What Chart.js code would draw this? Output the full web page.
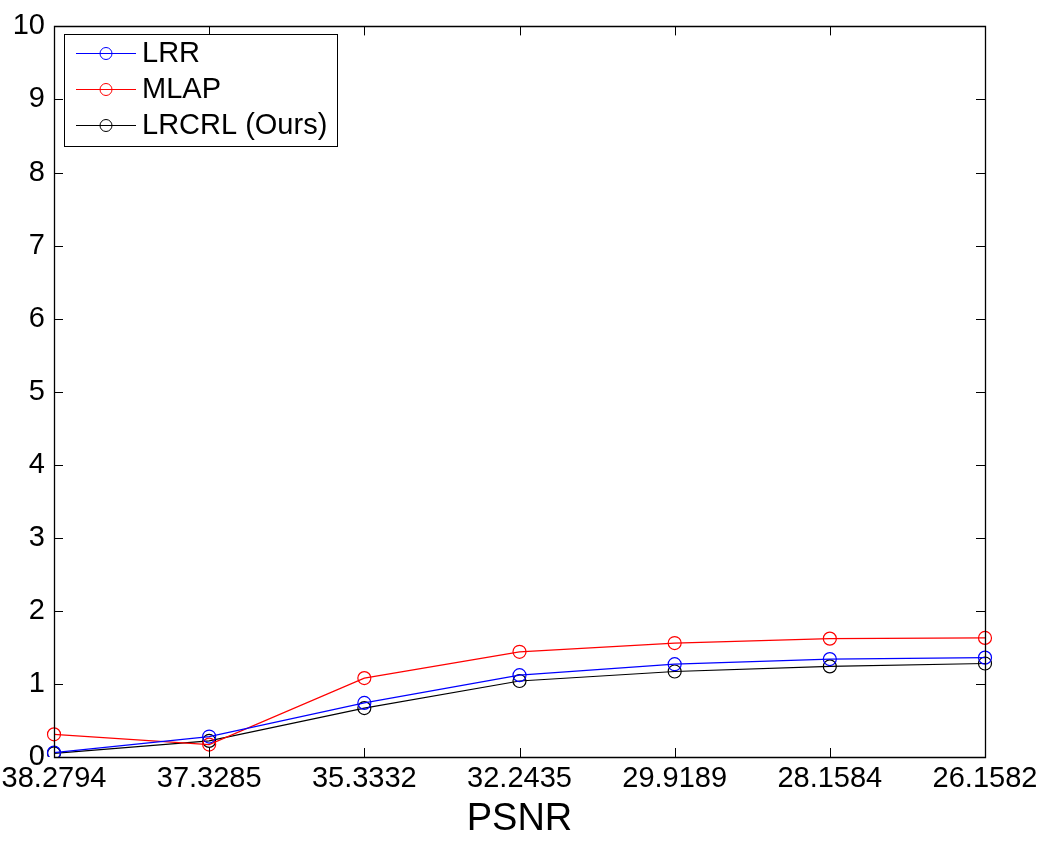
<!DOCTYPE html>
<html>
<head>
<meta charset="utf-8">
<script src="https://cdn.jsdelivr.net/npm/chart.js@4/dist/chart.umd.min.js"></script>
<style>
html,body{margin:0;padding:0;background:#fff;}
#wrap{width:1044px;height:842px;}
</style>
</head>
<body>
<div id="wrap"><canvas id="c" width="1044" height="842"></canvas></div>
<script>
const categories = ["38.2794","37.3285","35.3332","32.2435","29.9189","28.1584","26.1582"];
const lrr   = [0.06, 0.28, 0.74, 1.12, 1.27, 1.34, 1.36];
const mlap  = [0.31, 0.17, 1.08, 1.44, 1.56, 1.62, 1.63];
const lrcrl = [0.05, 0.22, 0.67, 1.04, 1.17, 1.24, 1.28];
const yTicks = [0,1,2,3,4,5,6,7,8,9,10];
const seriesNames = ["LRR","MLAP","LRCRL (Ours)"];
const seriesColors = ["#0000ff","#ff0000","#000000"];

const FONT = "'Liberation Sans', Arial, Helvetica, sans-serif";

const boxTicks = {
  id: 'boxTicks',
  afterDraw(chart) {
    const ctx = chart.ctx, a = chart.chartArea;
    const xs = chart.scales.x, ys = chart.scales.y;
    ctx.save();
    ctx.strokeStyle = '#000';
    ctx.lineWidth = 1.3;
    ctx.beginPath();
    ctx.rect(Math.round(a.left)+0.5, Math.round(a.top)+0.5, Math.round(a.right-a.left), Math.round(a.bottom-a.top));
    ctx.stroke();
    ctx.lineWidth = 1;
    const L = 9;
    ctx.beginPath();
    for (let i = 0; i < categories.length; i++) {
      const px = Math.round(xs.getPixelForValue(i)) + 0.5;
      ctx.moveTo(px, a.bottom); ctx.lineTo(px, a.bottom - L);
      ctx.moveTo(px, a.top); ctx.lineTo(px, a.top + L);
    }
    for (const v of yTicks) {
      const py = Math.round(ys.getPixelForValue(v)) + 0.5;
      ctx.moveTo(a.left, py); ctx.lineTo(a.left + L, py);
      ctx.moveTo(a.right, py); ctx.lineTo(a.right - L, py);
    }
    ctx.stroke();

    // legend
    const bx = 64.5, by = 34.5, bw = 273, bh = 112;
    ctx.fillStyle = '#fff';
    ctx.fillRect(bx, by, bw, bh);
    ctx.strokeRect(bx, by, bw, bh);
    ctx.font = '29px ' + FONT;
    ctx.textBaseline = 'middle';
    chart.data.datasets.forEach((ds, i) => {
      const y = 53 + i * 36;
      ctx.strokeStyle = ds.borderColor;
      ctx.lineWidth = 1;
      ctx.beginPath();
      ctx.moveTo(76, y + 0.5); ctx.lineTo(136, y + 0.5);
      ctx.stroke();
      ctx.beginPath();
      ctx.arc(106, y + 0.5, 6, 0, Math.PI * 2);
      ctx.stroke();
      ctx.fillStyle = '#000';
      ctx.fillText(ds.label, 142, y + 1);
    });
    ctx.restore();
  }
};

const mk = (name, data, color) => ({
  label: name, data: data, borderColor: color, backgroundColor: 'rgba(0,0,0,0)',
  borderWidth: 1.2, pointRadius: 6.5, pointHoverRadius: 6.5, pointBorderWidth: 1.2,
  pointBackgroundColor: 'rgba(0,0,0,0)', pointBorderColor: color, tension: 0, fill: false
});

new Chart(document.getElementById('c'), {
  type: 'line',
  data: {
    labels: categories,
    datasets: [mk(seriesNames[0], lrr, seriesColors[0]), mk(seriesNames[1], mlap, seriesColors[1]), mk(seriesNames[2], lrcrl, seriesColors[2])]
  },
  options: {
    responsive: false,
    animation: false,
    devicePixelRatio: 1,
    layout: { padding: { top: 23, right: 59, left: 0, bottom: 0 } },
    plugins: { legend: { display: false }, tooltip: { enabled: false } },
    scales: {
      x: {
        type: 'category',
        offset: false,
        grid: { display: false, drawTicks: false },
        border: { display: false },
        ticks: { color: '#000', font: { family: FONT, size: 29 }, padding: 5, maxRotation: 0, autoSkip: false },
        title: { display: true, text: 'PSNR', color: '#000', font: { family: FONT, size: 38 }, padding: { top: 0, bottom: 0 } },
        afterFit(s) { s.height = 85; s.paddingLeft = 0; s.paddingRight = 0; }
      },
      y: {
        min: 0, max: 10,
        afterBuildTicks(s) { s.ticks = yTicks.map(v => ({ value: v })); },
        grid: { display: false, drawTicks: false },
        border: { display: false },
        ticks: { color: '#000', font: { family: FONT, size: 29 }, padding: 9 },
        afterFit(s) { s.width = 54; }
      }
    }
  },
  plugins: [boxTicks]
});
</script>
</body>
</html>
